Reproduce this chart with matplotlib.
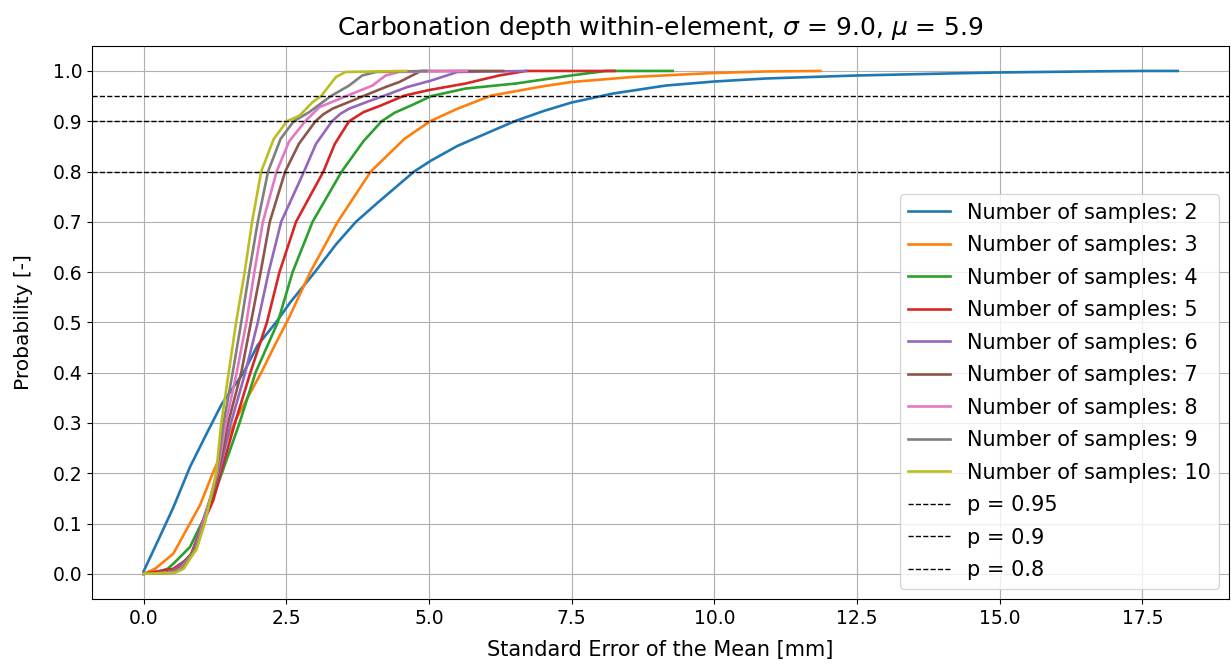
#CDF of the standard error of the mean, carbonation depth within one element
import numpy as np
import matplotlib.pyplot as plt

#Curves: SEM [mm] and cumulative probability
sem_2 = [0.0, 0.28, 0.52, 0.81, 1.10, 1.37, 1.75, 2.0, 2.32, 2.57, 3.0, 3.37, 3.72, 4.10, 4.74, 5.04, 5.50, 6.09, 6.5, 7.0, 7.49, 8.22, 9.15, 10.0, 10.9, 12.5, 14.1, 15.0, 16.5, 17.5, 18.12]
prob_2 = [0.005, 0.073, 0.132, 0.212, 0.278, 0.338, 0.40, 0.455, 0.50, 0.54, 0.60, 0.655, 0.70, 0.738, 0.80, 0.822, 0.851, 0.880, 0.90, 0.92, 0.937, 0.955, 0.971, 0.979, 0.985, 0.991, 0.995, 0.997, 0.999, 1.0, 1.0]

sem_3 = [0.0, 0.2, 0.52, 0.81, 0.99, 1.21, 1.63, 2.06, 2.3, 2.55, 2.92, 3.40, 3.98, 4.57, 5.02, 5.50, 6.09, 6.97, 7.49, 8.57, 10.0, 10.9, 11.86]
prob_3 = [0.0, 0.01, 0.04, 0.10, 0.137, 0.20, 0.31, 0.40, 0.455, 0.51, 0.60, 0.70, 0.80, 0.865, 0.90, 0.925, 0.951, 0.969, 0.978, 0.988, 0.996, 0.999, 1.0]

sem_4 = [0.0, 0.28, 0.42, 0.52, 0.81, 0.99, 1.16, 1.37, 1.68, 1.96, 2.35, 2.61, 2.96, 3.47, 3.85, 4.17, 4.4, 4.68, 5.04, 5.64, 6.52, 7.49, 8.1, 9.27]
prob_4 = [0.0, 0.005, 0.01, 0.02, 0.053, 0.095, 0.133, 0.20, 0.30, 0.40, 0.50, 0.60, 0.70, 0.80, 0.86, 0.90, 0.917, 0.931, 0.95, 0.965, 0.975, 0.991, 1.0, 1.0]

sem_5 = [0.0, 0.52, 0.81, 1.0, 1.22, 1.35, 1.60, 1.87, 2.16, 2.38, 2.67, 3.15, 3.35, 3.60, 3.85, 4.15, 4.57, 5.0, 5.64, 6.23, 6.70, 8.25]
prob_5 = [0.0, 0.01, 0.033, 0.09, 0.146, 0.20, 0.30, 0.40, 0.50, 0.60, 0.70, 0.80, 0.855, 0.90, 0.918, 0.931, 0.951, 0.962, 0.975, 0.991, 1.0, 1.0]

sem_6 = [0.0, 0.4, 0.57, 0.85, 1.02, 1.32, 1.53, 1.78, 2.00, 2.19, 2.41, 2.81, 3.02, 3.30, 3.45, 3.60, 3.95, 4.2, 4.62, 5.04, 5.50, 6.70]
prob_6 = [0.0, 0.002, 0.01, 0.04, 0.10, 0.20, 0.30, 0.40, 0.50, 0.60, 0.70, 0.80, 0.855, 0.90, 0.915, 0.925, 0.94, 0.95, 0.968, 0.981, 0.998, 1.0]

sem_7 = [0.0, 0.45, 0.6, 0.88, 1.03, 1.31, 1.48, 1.71, 1.88, 2.05, 2.21, 2.48, 2.72, 3.01, 3.15, 3.31, 3.85, 4.24, 4.48, 4.86, 6.3]
prob_7 = [0.0, 0.002, 0.01, 0.045, 0.10, 0.20, 0.30, 0.40, 0.50, 0.60, 0.70, 0.80, 0.855, 0.90, 0.914, 0.925, 0.95, 0.968, 0.978, 1.0, 1.0]

sem_8 = [0.0, 0.5, 0.64, 0.9, 1.04, 1.29, 1.44, 1.63, 1.80, 1.94, 2.09, 2.33, 2.55, 2.83, 3.08, 3.55, 4.01, 4.24, 4.48, 5.66]
prob_8 = [0.0, 0.002, 0.01, 0.045, 0.10, 0.20, 0.30, 0.40, 0.50, 0.60, 0.70, 0.80, 0.86, 0.90, 0.928, 0.95, 0.971, 0.991, 0.998, 1.0]

sem_9 = [0.0, 0.52, 0.67, 0.92, 1.06, 1.28, 1.40, 1.56, 1.71, 1.85, 2.00, 2.18, 2.40, 2.63, 2.90, 3.28, 3.60, 3.83, 4.07, 4.95]
prob_9 = [0.0, 0.002, 0.01, 0.05, 0.10, 0.20, 0.30, 0.40, 0.50, 0.60, 0.70, 0.80, 0.865, 0.90, 0.918, 0.95, 0.971, 0.991, 0.998, 1.0]

sem_10 = [0.0, 0.55, 0.7, 0.93, 1.07, 1.27, 1.36, 1.49, 1.62, 1.77, 1.90, 2.06, 2.28, 2.51, 2.73, 2.96, 3.11, 3.37, 3.54, 4.6]
prob_10 = [0.0, 0.002, 0.01, 0.05, 0.10, 0.20, 0.30, 0.40, 0.50, 0.60, 0.70, 0.80, 0.865, 0.90, 0.911, 0.938, 0.95, 0.988, 0.998, 1.0]

n_samples = [2, 3, 4, 5, 6, 7, 8, 9, 10]
sems = [sem_2, sem_3, sem_4, sem_5, sem_6, sem_7, sem_8, sem_9, sem_10]
probs = [prob_2, prob_3, prob_4, prob_5, prob_6, prob_7, prob_8, prob_9, prob_10]
p_levels = [0.95, 0.9, 0.8]

fig = plt.figure(figsize=(12.31, 6.64), dpi=100)
ax = fig.add_axes([0.0747, 0.098, 0.924, 0.833])

for n, x, y in zip(n_samples, sems, probs):
    ax.plot(x, y, lw=1.9, label='Number of samples: ' + str(n))

for p in p_levels:
    ax.axhline(p, color='k', linestyle='--', lw=1, label='p = ' + str(p))

ax.set_yticks(np.arange(0, 1.01, 0.1))
ax.tick_params(labelsize=13.5)
ax.grid(True)
ax.set_xlabel('Standard Error of the Mean [mm]', fontsize=15, labelpad=9)
ax.set_ylabel('Probability [-]', fontsize=14.5, labelpad=14)
ax.set_title(r'Carbonation depth within-element, $\sigma$ = 9.0, $\mu$ = 5.9', fontsize=18, pad=8)
ax.legend(loc='lower right', fontsize=15, labelspacing=0.6)

plt.savefig('out.png')
